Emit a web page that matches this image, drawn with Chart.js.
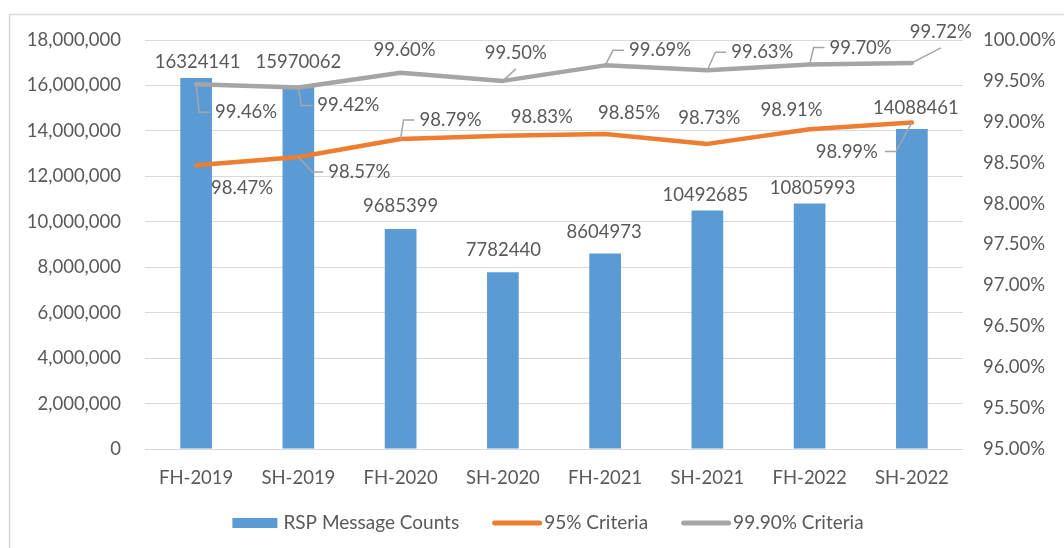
<!DOCTYPE html>
<html>
<head>
<meta charset="utf-8">
<script src="https://cdn.jsdelivr.net/npm/chart.js@4.4.0/dist/chart.umd.min.js"></script>
<style>
  html, body { margin: 0; padding: 0; background: #fff; }
  #wrap { width: 1064px; height: 548px; }
</style>
</head>
<body>
<div id="wrap"><canvas id="chart" width="1064" height="548"></canvas></div>
<script>
// data
const periods = ['FH-2019', 'SH-2019', 'FH-2020', 'SH-2020', 'FH-2021', 'SH-2021', 'FH-2022', 'SH-2022'];
const messageCounts = [16324141, 15970062, 9685399, 7782440, 8604973, 10492685, 10805993, 14088461];
const criteria95 = [98.47, 98.57, 98.79, 98.83, 98.85, 98.73, 98.91, 98.99];
const criteria999 = [99.46, 99.42, 99.60, 99.50, 99.69, 99.63, 99.70, 99.72];
const seriesNames = ['RSP Message Counts', '95% Criteria', '99.90% Criteria'];

const countMax = 18000000, countStep = 2000000;
const pctMin = 95, pctMax = 100, pctStep = 0.5;

const FONT = 'Lato, "Open Sans", sans-serif';
const FSIZE = 18.5;
const TEXT = '#595959';
const LEADER = '#a6a6a6';

// where Excel put each data label, relative to its point / bar top (dx, dy)
const labelSpots = [
  [[1.5,-16],[0,-24],[0,-23],[0.5,-22.5],[-1,-21],[-2,-16],[3,-15],[4,-21]],
  [[46,23],[61,15],[50,-19],[39,-19],[24,-21],[2,-26],[-18,-19],[-65,29]],
  [[50,28],[50,18],[4,-23],[13,-28],[55,-15],[55,-18],[51,-17],[29,-31]]
];
// leader line kind: r = elbow to label's left, l = elbow to label's right, d = straight under label
const leaders = [
  [],
  [null,'r','r',null,null,null,null,'l'],
  ['r','r',null,'d','r','r','r','d']
];

const frame = {
  id: 'frame',
  beforeDraw(chart){
    const ctx = chart.ctx;
    ctx.save();
    ctx.strokeStyle = '#d9d9d9';
    ctx.lineWidth = 1.5;
    ctx.strokeRect(9.5, 14.5, 1078, 560);
    ctx.restore();
  }
};

const dataLabels = {
  id: 'dataLabels',
  afterDatasetsDraw(chart){
    const ctx = chart.ctx;
    ctx.save();
    ctx.font = FSIZE + 'px ' + FONT;
    ctx.textAlign = 'center';
    ctx.textBaseline = 'middle';
    chart.data.datasets.forEach((ds, di) => {
      const meta = chart.getDatasetMeta(di);
      meta.data.forEach((el, i) => {
        const v = ds.data[i];
        const txt = ds.type === 'bar' ? String(v) : v.toFixed(2) + '%';
        const [dx, dy] = labelSpots[di][i];
        const cx = el.x + dx, cy = el.y + dy;
        const w = ctx.measureText(txt).width, h = 18;
        const kind = leaders[di][i];
        if (kind) {
          ctx.beginPath();
          ctx.strokeStyle = LEADER;
          ctx.lineWidth = 1.5;
          ctx.moveTo(el.x, el.y);
          if (kind === 'r') {
            const L = cx - w/2;
            ctx.lineTo(L - 16, cy);
            ctx.lineTo(L - 5, cy);
          } else if (kind === 'l') {
            const R = cx + w/2;
            ctx.lineTo(R + 18, cy);
            ctx.lineTo(R + 7, cy);
          } else {
            ctx.lineTo(cx, cy + h/2 + 7);
          }
          ctx.stroke();
        }
        ctx.fillStyle = TEXT;
        ctx.fillText(txt, cx, cy);
      });
    });
    ctx.restore();
  }
};

const bottomLegend = {
  id: 'bottomLegend',
  afterDraw(chart){
    const ctx = chart.ctx;
    ctx.save();
    ctx.font = '19px ' + FONT;
    ctx.textBaseline = 'middle';
    ctx.textAlign = 'left';
    const items = chart.data.datasets.map(ds => {
      const bar = ds.type === 'bar';
      const it = {text: ds.label, bar, color: bar ? ds.backgroundColor : ds.borderColor};
      it.sym = bar ? 45 : 50;
      it.gap = bar ? 6 : 2;
      it.w = it.sym + it.gap + ctx.measureText(it.text).width;
      return it;
    });
    const spacing = 33;
    const total = items.reduce((a, it) => a + it.w, 0) + spacing * (items.length - 1);
    let x = 548 - total / 2;
    const y = 523;
    items.forEach(it => {
      if (it.bar) {
        ctx.fillStyle = it.color;
        ctx.fillRect(x, y - 5, it.sym, 10);
      } else {
        ctx.beginPath();
        ctx.strokeStyle = it.color;
        ctx.lineWidth = 5;
        ctx.lineCap = 'round';
        ctx.moveTo(x + 2.5, y);
        ctx.lineTo(x + it.sym - 2.5, y);
        ctx.stroke();
      }
      ctx.fillStyle = TEXT;
      ctx.fillText(it.text, x + it.sym + it.gap, y);
      x += it.w + spacing;
    });
    ctx.restore();
  }
};

const tickFont = {family: FONT, size: FSIZE};

new Chart(document.getElementById('chart'), {
  data: {
    labels: periods,
    datasets: [
      {
        type: 'bar',
        label: seriesNames[0],
        data: messageCounts,
        backgroundColor: '#5b9bd5',
        borderWidth: 0,
        barPercentage: 0.31,
        categoryPercentage: 1,
        yAxisID: 'y',
        order: 3
      },
      {
        type: 'line',
        label: seriesNames[1],
        data: criteria95,
        borderColor: '#ed7d31',
        backgroundColor: '#ed7d31',
        borderWidth: 4.5,
        borderCapStyle: 'round',
        borderJoinStyle: 'round',
        pointRadius: 0,
        tension: 0,
        yAxisID: 'y2',
        order: 2
      },
      {
        type: 'line',
        label: seriesNames[2],
        data: criteria999,
        borderColor: '#a5a5a5',
        backgroundColor: '#a5a5a5',
        borderWidth: 4.5,
        borderCapStyle: 'round',
        borderJoinStyle: 'round',
        pointRadius: 0,
        tension: 0,
        yAxisID: 'y2',
        order: 1
      }
    ]
  },
  options: {
    responsive: false,
    animation: false,
    devicePixelRatio: 1,
    layout: { padding: {top: 40, left: 0, right: 0, bottom: 0} },
    plugins: {
      legend: { display: false },
      tooltip: { enabled: false }
    },
    scales: {
      x: {
        grid: { display: false, drawTicks: false },
        border: { display: false },
        ticks: { color: TEXT, font: tickFont, padding: 18, maxRotation: 0, autoSkip: false },
        afterFit(s){ s.height = 99; }
      },
      y: {
        position: 'left',
        min: 0,
        max: countMax,
        grid: { color: '#d9d9d9', lineWidth: 1, drawTicks: false },
        border: { display: false },
        ticks: {
          stepSize: countStep,
          color: TEXT,
          font: tickFont,
          padding: 24,
          callback: v => v.toLocaleString('en-US')
        },
        afterFit(s){ s.width = 145; }
      },
      y2: {
        position: 'right',
        min: pctMin,
        max: pctMax,
        grid: { display: false, drawTicks: false },
        border: { display: false },
        ticks: {
          stepSize: pctStep,
          color: TEXT,
          font: tickFont,
          padding: 20,
          callback: v => v.toFixed(2) + '%'
        },
        afterFit(s){ s.width = 101; }
      }
    }
  },
  plugins: [frame, dataLabels, bottomLegend]
});
</script>
</body>
</html>
